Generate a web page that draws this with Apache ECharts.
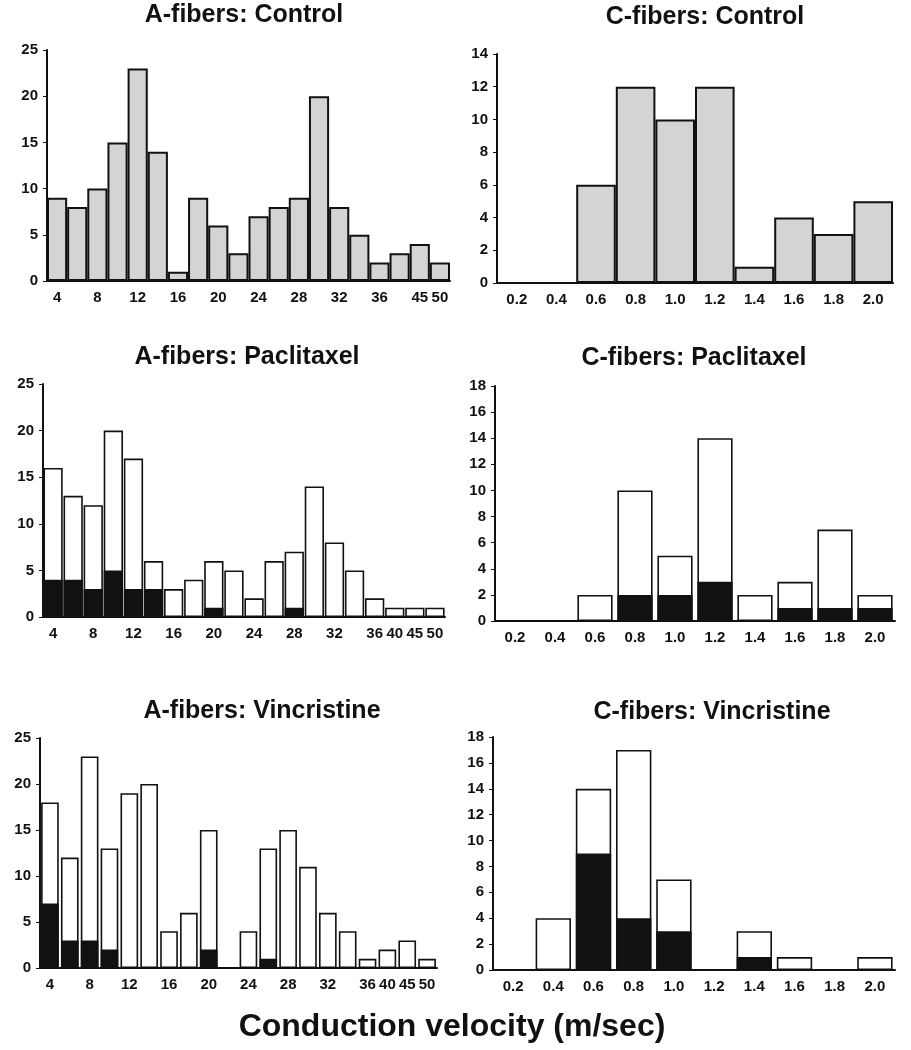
<!DOCTYPE html>
<html>
<head>
<meta charset="utf-8">
<script src="https://cdn.jsdelivr.net/npm/echarts@6/dist/echarts.min.js"></script>
<style>
html,body{margin:0;padding:0;background:#fff;}
#chart{width:911px;height:1050px;}
</style>
</head>
<body>
<div id="chart"></div>
<script>
// ---- data ----
var aBins = ['4','6','8','10','12','14','16','18','20','22','24','26','28','30','32','34','36','40','45','50'];
var aShownControl = ['4','8','12','16','20','24','28','32','36','45','50'];
var aShownTreated = ['4','8','12','16','20','24','28','32','36','40','45','50'];
var aControl = [9,8,10,15,23,14,1,9,6,3,7,8,9,20,8,5,2,3,4,2];
var aPacliTotal = [16,13,12,20,17,6,3,4,6,5,2,6,7,14,8,5,2,1,1,1];
var aPacliBlack = [4,4,3,5,3,3,0,0,1,0,0,0,1,0,0,0,0,0,0,0];
var aVincTotal = [18,12,23,13,19,20,4,6,15,0,4,13,15,11,6,4,1,2,3,1];
var aVincBlack = [7,3,3,2,0,0,0,0,2,0,0,1,0,0,0,0,0,0,0,0];

var cBins = ['0.2','0.4','0.6','0.8','1.0','1.2','1.4','1.6','1.8','2.0'];
var cControl = [0,0,6,12,10,12,1,4,3,5];
var cPacliTotal = [0,0,2,10,5,14,2,3,7,2];
var cPacliBlack = [0,0,0,2,2,3,0,1,1,1];
var cVincTotal = [0,4,14,17,7,0,3,1,0,1];
var cVincBlack = [0,0,9,4,3,0,1,0,0,0];

var titles = ['A-fibers: Control','C-fibers: Control','A-fibers: Paclitaxel','C-fibers: Paclitaxel','A-fibers: Vincristine','C-fibers: Vincristine'];
var xTitle = 'Conduction velocity (m/sec)';

// ---- layout ----
var FONT = '"Liberation Sans", Arial, Helvetica, sans-serif';
var grids = [
  {left:47, top:50, width:403, height:231},
  {left:497, top:54, width:396, height:229},
  {left:43, top:384, width:402, height:233},
  {left:495, top:386, width:400, height:235},
  {left:40, top:738, width:397, height:230},
  {left:493, top:737, width:402, height:233}
];
var titlePos = [[244,15],[705,17],[247,357],[694,358],[262,711],[712,712]];
var yMax = [25,14,25,18,25,18];
var yInt = [5,2,5,2,5,2];
var cats = [aBins,cBins,aBins,cBins,aBins,cBins];
var shown = [aShownControl,null,aShownTreated,null,aShownTreated,null];

var xAxes = [], yAxes = [], series = [], graphics = [];
for (var i = 0; i < 6; i++) {
  (function(i){
    var sh = shown[i];
    xAxes.push({
      type:'category', gridIndex:i, data:cats[i],
      axisLine:{show:true, onZero:false, lineStyle:{color:'#111', width:2}},
      axisTick:{show:false},
      axisLabel:{
        color:'#111', fontFamily:FONT, fontWeight:'bold', fontSize:15, margin:9,
        hideOverlap:false,
        interval: sh ? function(idx, val){ return sh.indexOf(val) >= 0; } : 0
      },
      splitLine:{show:false}
    });
    yAxes.push({
      type:'value', gridIndex:i, min:0, max:yMax[i], interval:yInt[i],
      axisLine:{show:true, lineStyle:{color:'#111', width:2}},
      axisTick:{show:true, length:4, lineStyle:{color:'#111', width:1}},
      axisLabel:{color:'#111', fontFamily:FONT, fontWeight:'bold', fontSize:15, margin:9},
      splitLine:{show:false}
    });
    graphics.push({
      type:'text', x:titlePos[i][0], y:titlePos[i][1],
      style:{text:titles[i], font:'bold 25px ' + FONT, fill:'#111', textAlign:'center', textVerticalAlign:'middle'}
    });
  })(i);
}

function ctrlSeries(idx, data) {
  return {type:'bar', xAxisIndex:idx, yAxisIndex:idx, data:data, barCategoryGap:'0%',
    itemStyle:{color:'#d4d4d4', borderColor:'#111', borderWidth:2}, silent:true, animation:false};
}
function stackSeries(idx, total, black, gap) {
  return [
    {type:'bar', xAxisIndex:idx, yAxisIndex:idx, data:total, barCategoryGap:gap, barGap:'-100%',
      itemStyle:{color:'#ffffff', borderColor:'#111', borderWidth:1.6}, silent:true, animation:false, z:2},
    {type:'bar', xAxisIndex:idx, yAxisIndex:idx, data:black, barCategoryGap:gap, barGap:'-100%',
      itemStyle:{color:'#111', borderColor:'#111', borderWidth:1.6}, silent:true, animation:false, z:3}
  ];
}
series.push(ctrlSeries(0, aControl));
series.push(ctrlSeries(1, cControl));
series = series.concat(stackSeries(2, aPacliTotal, aPacliBlack, '4%'));
series = series.concat(stackSeries(3, cPacliTotal, cPacliBlack, '12%'));
series = series.concat(stackSeries(4, aVincTotal, aVincBlack, '11%'));
series = series.concat(stackSeries(5, cVincTotal, cVincBlack, '12%'));

graphics.push({
  type:'text', x:452, y:1027,
  style:{text:xTitle, font:'bold 32px ' + FONT, fill:'#111', textAlign:'center', textVerticalAlign:'middle'}
});

var chart = echarts.init(document.getElementById('chart'), null, {renderer:'canvas'});
chart.setOption({
  backgroundColor:'#ffffff',
  animation:false,
  grid:grids,
  xAxis:xAxes,
  yAxis:yAxes,
  series:series,
  graphic:graphics
});
</script>
</body>
</html>
